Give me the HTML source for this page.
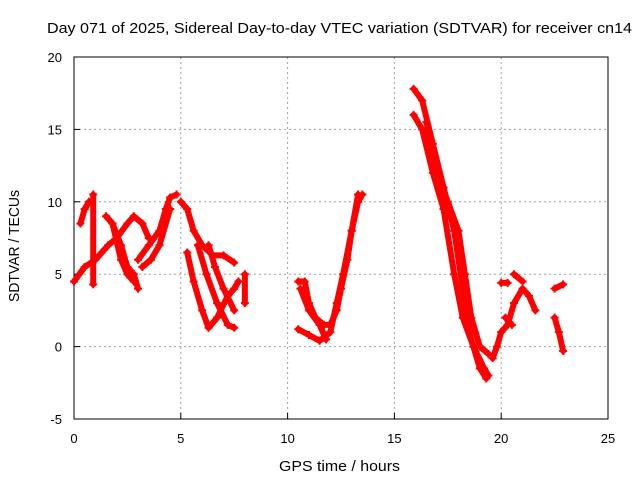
<!DOCTYPE html>
<html><head><meta charset="utf-8"><style>
body{margin:0;background:#fff;}
svg text{font-family:"Liberation Sans",sans-serif;font-size:13px;fill:#000;}
</style></head><body>
<svg id="chart" width="640" height="480">
<rect width="640" height="480" fill="#fff"/>
<text x="47" y="33" textLength="585" lengthAdjust="spacingAndGlyphs" style="font-size:15px">Day 071 of 2025, Sidereal Day-to-day VTEC variation (SDTVAR) for receiver cn14</text>
<g id="grid"></g>
<g id="axes"></g>
<g id="marks"></g>
<text x="279" y="471" textLength="121" lengthAdjust="spacingAndGlyphs" style="font-size:15px">GPS time / hours</text>
<text transform="translate(19,302) rotate(-90)" textLength="112" lengthAdjust="spacingAndGlyphs" style="font-size:15px">SDTVAR / TECUs</text>
</svg>
<script>
const xTicks=[0,5,10,15,20,25];
const yTicks=[-5,0,5,10,15,20];
const tracks=[
[[0.3,8.5],[0.5,9.5],[0.7,10]],
[[0,4.5],[0.5,5.5],[1,6],[1.3,6.5],[1.6,7],[2,7.5],[2.5,8.5],[2.8,9],[3.2,8.5],[3.5,7.5]],
[[1.5,9],[1.8,8.5],[2.2,7],[2.5,5.5],[2.8,5],[3,4]],
[[1.8,8.5],[2.2,6],[2.5,5],[2.8,4.5]],
[[3,6],[3.5,7],[4,8],[4.3,9.5],[4.5,10.3],[4.8,10.5]],
[[3.2,5.5],[3.6,6],[4,7],[4.5,9.5]],
[[5,10],[5.3,9.5],[5.6,8],[6,7],[6.5,6.3],[7,6.3],[7.5,5.8]],
[[5.3,6.5],[5.6,4.5],[6,2.5],[6.3,1.3],[6.7,2],[7.2,3.5],[7.5,4],[7.7,4.5]],
[[5.8,7],[6.2,5],[6.7,3],[7.2,1.5],[7.5,1.3]],
[[6.3,7],[6.6,5.5],[7,4],[7.5,2.5]],
[[8,5],[8,3]],
[[0.9,10.5],[0.9,4.3]],
[[10.5,4.5],[10.8,4.5],[11,3],[11.3,2],[11.7,1.5],[12,1.5],[12.3,2.5],[12.5,4],[12.8,6],[13,8],[13.3,10],[13.5,10.5]],
[[10.5,1.2],[11,0.8],[11.5,0.4],[12,1],[12.3,3],[12.6,5],[13,8],[13.3,10.5]],
[[10.6,4],[11,2.5],[11.5,1.5],[11.8,0.5]],
[[15.9,17.8],[16.3,17],[16.8,14],[17.3,11],[17.8,8],[18.2,4],[18.5,1],[19,-1.5],[19.3,-2.2]],
[[15.9,16],[16.3,15],[16.8,12],[17.3,9.5],[17.8,5],[18.2,2],[18.7,0],[19.2,-1.5],[19.4,-2]],
[[16.5,15.5],[17,12],[17.5,10],[18,8],[18.3,5],[18.6,2],[19,0],[19.4,-0.5]],
[[19.6,-0.8],[19.8,0],[20,1],[20.3,1.5],[20.6,3],[21,4],[21.3,3.5],[21.6,2.5]],
[[20.6,5],[21,4.5]],
[[20,4.4],[20.3,4.4]],
[[20.2,2],[20.5,1.5]],
[[22.5,2],[22.7,1],[22.9,-0.3]],
[[22.5,4],[22.9,4.3]]
];
const X=v=>74+(v-0)*(608-74)/25;
const Y=v=>419-(v+5)*(419-57)/25;
const NS='http://www.w3.org/2000/svg';
function mk(t,a,p){const e=document.createElementNS(NS,t);for(const k in a)e.setAttribute(k,a[k]);p.appendChild(e);return e;}
const grid=document.getElementById('grid'),axes=document.getElementById('axes'),marks=document.getElementById('marks');
xTicks.forEach(t=>{
 if(t>0&&t<25){const l=mk('line',{x1:X(t),x2:X(t),y1:57,y2:419,stroke:'#a0a0a0','stroke-dasharray':'2,3'},grid);
 }
 const tk=mk('line',{x1:X(t),x2:X(t),y1:419,y2:413,stroke:'#000'},axes);
 
 const tx=mk('text',{x:X(t),y:443,'text-anchor':'middle'},axes);tx.textContent=t;
 
});
yTicks.forEach(t=>{
 if(t>-5&&t<20){const l=mk('line',{x1:74,x2:608,y1:Y(t),y2:Y(t),stroke:'#a0a0a0','stroke-dasharray':'2,3'},grid);
 }
 const tk=mk('line',{x1:74,x2:80,y1:Y(t),y2:Y(t),stroke:'#000'},axes);
 
 const tx=mk('text',{x:62,y:Y(t)+5,'text-anchor':'end'},axes);tx.textContent=t;
 
});
const fr=mk('rect',{x:74,y:57,width:534,height:362,fill:'none',stroke:'#000'},axes);

tracks.forEach(tr=>{
 const pl=mk('polyline',{points:tr.map(p=>X(p[0])+','+Y(p[1])).join(' '),fill:'none',stroke:'#f00','stroke-width':6,'stroke-linejoin':'round','stroke-linecap':'round'},marks);
 
 tr.forEach(p=>{const x=X(p[0]),y=Y(p[1]);
  const m=mk('path',{d:`M${x-4},${y}H${x+4}M${x},${y-4}V${y+4}`,stroke:'#f00','stroke-width':2},marks);
  });
});
</script>
</body></html>
